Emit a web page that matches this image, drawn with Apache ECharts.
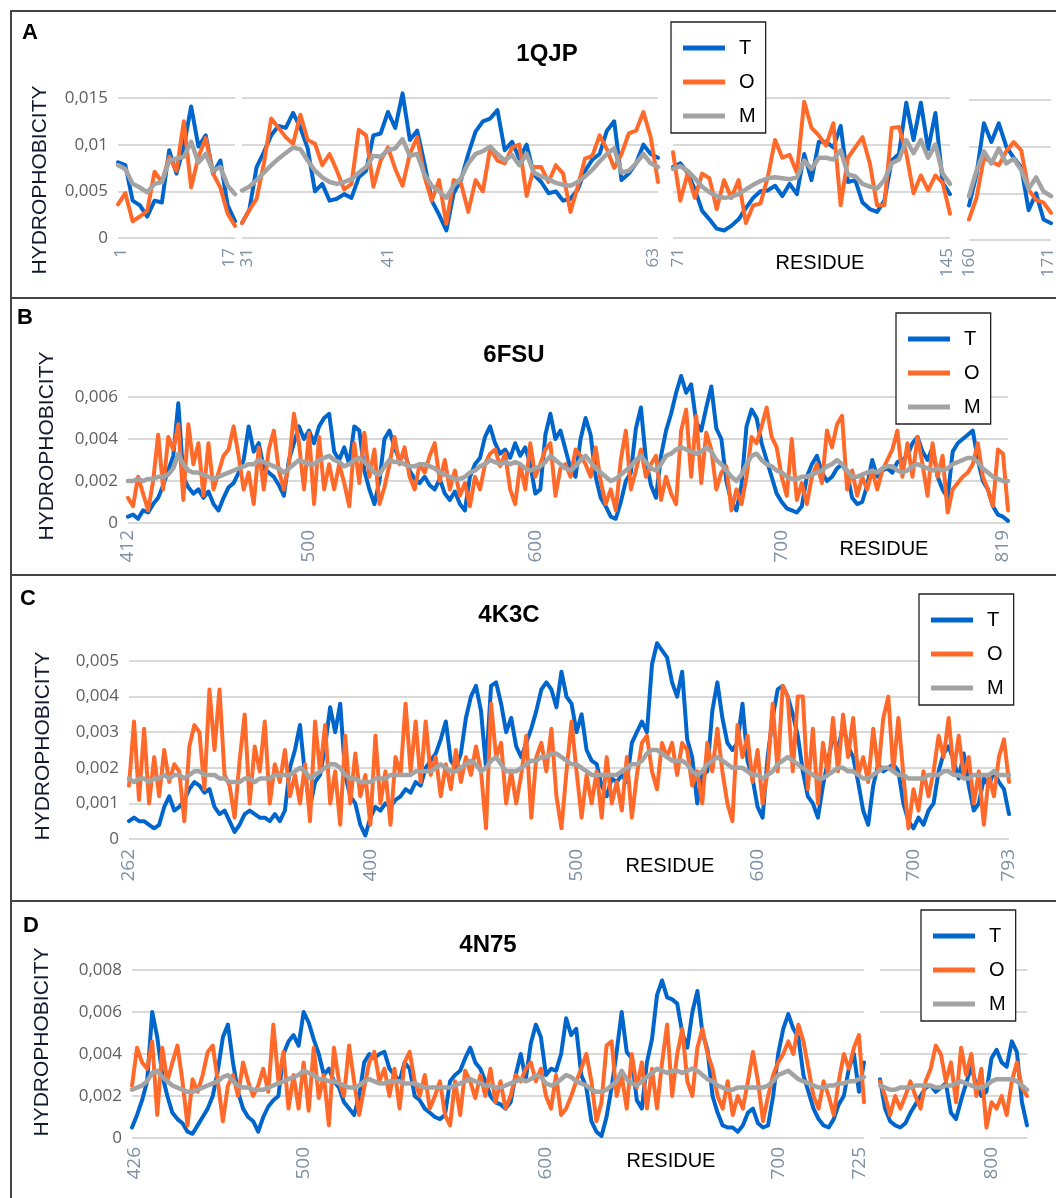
<!DOCTYPE html>
<html><head><meta charset="utf-8">
<script src="https://cdn.jsdelivr.net/npm/echarts@6/dist/echarts.min.js"></script>
<style>html,body{margin:0;padding:0;background:#fff}#c{width:1056px;height:1198px}</style>
</head><body><div id="c"></div>
<script>
// Hydrophobicity values in units of 0.0001
// Panel A – 1QJP (four segments)
const A1_T = [81,78,40,35,23,40,38,94,69,98,141,98,110,69,83,35,18];
const A1_O = [36,48,18,23,29,71,60,87,72,125,54,87,107,69,54,26,13];
const A1_M = [78,74,58,54,49,58,60,83,85,87,103,81,90,72,76,56,47];
const A2_T = [16,30,76,92,110,120,118,134,118,96,50,58,40,42,47,43,65,72,110,112,135,118,155,105,115,80,40,25,8,48,62,90,114,125,128,137,94,103,85,100,68,60,48,50,40,42,52,72,84,90,115,125,62,69,80,100,90,86];
const A2_O = [16,30,42,80,128,118,108,101,132,105,101,78,90,72,52,58,116,110,55,83,97,74,56,90,108,66,40,62,15,62,59,28,62,50,96,83,80,97,100,45,76,76,60,78,69,28,55,85,88,110,95,75,90,112,115,135,108,60];
const A2_M = [51,55,62,70,78,85,91,97,95,83,72,65,60,58,60,63,70,76,88,87,94,96,106,88,90,68,56,50,43,56,64,80,90,93,98,90,83,89,78,90,70,66,63,59,57,56,60,66,73,82,90,96,70,72,80,90,80,76];
const A3_T = [76,80,70,52,29,20,10,8,13,20,32,43,50,51,56,45,58,47,90,62,103,103,97,120,60,62,38,31,28,40,83,90,145,105,145,95,134,59,47];
const A3_O = [92,40,69,43,69,64,31,62,43,62,16,35,37,65,105,86,89,70,146,118,110,99,123,35,86,97,108,80,35,35,118,119,91,48,67,51,67,59,26];
const A3_M = [74,77,72,64,55,49,45,43,44,47,52,57,61,64,65,64,63,65,83,74,86,86,84,94,68,66,58,55,53,62,80,84,105,91,105,86,100,69,58];
const A4_T = [37,70,125,105,125,100,88,78,32,50,22,18];
const A4_O = [22,45,88,84,80,95,105,96,54,43,40,29];
const A4_M = [47,74,95,82,98,82,87,75,55,67,52,47];

// Panel B – 6FSU
const B_T = [3,4,2,6,5,9,12,18,25,32, 57,22,17,14,16,12,15,9,6,12, 17,19,24,30,46,34,38,26,24,22, 18,13,30,38,46,40,44,38,46,50,
 52,34,30,36,28,46,44,25,16,9, 20,40,44,36,30,34,25,21,19,22, 18,16,21,14,11,15,9,6,22,28, 31,41,46,38,33,35,31,38,32,36,
 28,14,16,42,52,40,44,35,26,22, 40,50,42,22,12,8,3,2,10,20, 24,45,55,30,18,12,32,44,52,62, 70,62,66,48,44,55,65,45,40,20,
 10,6,18,46,54,50,38,30,22,14, 10,7,6,5,8,22,28,32,24,20, 22,26,28,24,12,9,10,18,30,22, 25,26,24,29,30,32,38,41,34,30,
 36,22,16,12,34,38,40,42,44,30, 20,16,8,4,3,1];
const B_O = [12,8,22,14,6,20,42,16,41,35, 47,11,47,28,38,13,38,16,24,32, 35,46,32,16,24,9,36,16,35,44, 25,16,28,52,38,16,43,9,41,16,
 28,16,28,19,8,38,19,43,22,35, 9,17,28,41,28,36,22,16,28,24, 32,38,20,30,16,25,13,19,8,22, 16,28,33,35,27,33,16,9,28,16,
 38,22,28,35,38,13,26,28,22,35, 32,28,22,36,20,9,16,6,30,44, 16,25,35,22,28,32,11,22,14,9, 44,54,22,51,19,43,35,16,24,27,
 6,16,9,22,41,38,46,55,41,36, 22,13,40,11,19,9,22,28,19,44, 36,47,51,16,25,13,22,16,25,16, 25,30,35,44,22,38,22,41,28,13,
 38,22,32,5,16,19,22,24,28,38, 22,16,8,35,33,6];
const B_M = [20,20,21,20,21,21,22,22,23,26, 33,28,25,24,24,23,22,21,22,23, 24,25,26,27,28,28,30,29,28,27, 26,24,26,28,30,29,28,28,30,31,
 32,30,29,27,28,30,31,29,27,24, 23,27,30,29,29,28,27,27,28,28, 27,26,24,23,22,21,21,22,24,25, 27,28,30,29,28,29,28,29,28,26,
 25,26,27,29,32,30,28,26,25,27, 30,32,29,26,24,22,20,21,23,25, 27,30,32,29,26,25,28,32,33,35, 36,35,34,33,34,36,34,30,28,25,
 22,20,23,28,32,33,30,28,27,25, 24,22,21,21,22,22,23,24,25,27, 28,30,28,25,22,22,23,24,25,24, 26,27,27,25,24,25,27,28,27,26,
 25,26,25,26,28,29,30,31,31,29, 26,24,22,21,20,20];

// Panel C – 4K3C
const C_T = [5,6,5,5,4,3,4,9,12,8, 9,11,14,16,15,13,14,9,7,8, 5,2,4,7,8,7,6,6,5,7, 5,8,20,25,32,18,9,16,18,26,
 37,30,38,18,12,10,4,1,6,9, 8,10,9,11,12,14,13,16,15,20, 22,24,28,33,22,20,24,34,40,43, 36,20,43,44,38,30,34,26,23,27,
 31,36,42,44,42,37,47,40,38,30, 35,25,22,21,15,12,17,16,18,16, 27,30,33,30,49,55,53,51,44,40, 47,28,23,10,18,19,36,44,34,27,
 25,27,38,22,17,9,6,23,34,42, 43,40,35,29,19,12,10,6,15,22, 29,25,32,26,23,16,8,4,15,21, 19,20,21,19,10,5,3,6,4,8,
 10,19,24,26,22,17,24,15,8,10, 17,15,19,16,14,7];
const C_O = [15,33,11,31,10,23,12,25,16,21, 19,5,26,32,30,14,42,25,42,18, 15,6,22,35,10,26,19,33,10,21, 16,25,12,18,10,21,5,33,19,32,
 10,19,4,29,10,24,12,18,4,29, 10,19,4,23,18,38,19,33,16,33, 18,23,12,21,14,25,16,23,18,26, 19,3,38,23,27,10,19,10,18,29,
 6,23,27,19,31,12,3,19,33,19, 6,18,10,19,6,23,10,16,8,23, 6,18,27,29,19,14,27,23,27,18, 27,25,15,19,10,27,19,31,19,10,
 5,32,23,29,16,25,10,19,38,19, 43,40,19,40,40,14,31,10,27,18, 34,19,35,23,34,18,23,16,31,19, 34,40,19,34,18,3,14,8,19,12,
 19,29,23,34,19,29,18,23,10,19, 4,18,12,23,28,16];
const C_M = [17,16,17,17,16,17,17,18,17,18, 18,17,18,19,19,18,18,18,17,17, 16,16,16,17,17,16,17,17,17,18, 18,18,18,19,20,19,17,18,19,20,
 21,21,20,18,17,17,16,16,16,17, 17,17,18,18,18,18,18,19,19,19, 19,20,21,20,19,19,20,21,22,21, 19,20,22,23,21,19,19,19,20,21,
 22,22,23,23,24,24,23,22,21,21, 20,19,18,18,18,18,18,18,19,20, 21,21,22,24,25,25,24,23,22,22, 22,21,19,18,19,21,22,23,22,21,
 20,20,20,19,18,18,17,18,19,21, 22,23,22,21,20,19,18,17,17,18, 19,20,20,19,19,18,17,17,18,19, 20,20,19,18,18,17,17,17,17,18,
 18,18,19,19,18,18,17,17,18,18, 18,18,19,18,18,18];

// Panel D – 4N75 (two segments)
const D1_T = [5,11,18,27,60,48,30,20,12,9, 7,3,2,6,10,14,20,32,48,54, 36,22,14,10,8,3,10,15,18,20, 40,46,49,44,60,55,47,40,30,33,
 27,24,17,14,11,20,36,40,38,40, 41,33,30,27,36,33,20,18,14,12, 10,9,11,27,30,32,38,43,36,33, 27,20,17,16,14,17,30,40,28,45,
 54,48,30,33,32,40,57,49,52,30, 24,8,3,1,10,24,41,60,41,38, 18,14,36,47,68,75,67,66,64,50, 43,60,70,50,42,20,12,6,5,5,
 3,6,12,14,7,5,6,20,40,52, 59,52,48,30,22,14,9,6,5,9, 16,20,33,40,22,36];
const D1_O = [25,43,36,33,46,11,43,27,36,44, 27,6,28,22,30,41,44,27,8,25, 30,20,36,27,20,25,33,22,54,27, 41,14,30,14,36,13,43,19,30,6,
 43,27,20,44,27,11,24,36,41,27, 33,20,33,14,36,41,27,20,30,14, 20,27,11,6,27,11,32,27,19,30, 20,33,17,27,14,20,30,27,33,36,
 27,33,20,14,30,11,14,20,27,33, 40,27,8,17,44,46,20,30,14,40, 24,36,14,33,14,36,54,20,40,52, 27,20,43,52,40,33,20,14,27,11,
 20,14,27,41,27,8,20,30,36,40, 46,40,54,46,33,20,14,27,20,11, 27,40,33,43,49,17];
const D1_M = [23,24,25,27,31,32,29,27,25,24,23, 22,22,23,24,25,26,27,29,30,27, 25,24,24,23,23,23,24,25,26,27, 28,29,30,32,31,30,28,28,27,27,
 26,25,24,24,25,27,28,27,26,26, 27,27,27,26,26,26,25,24,24,24, 24,24,24,25,26,27,28,27,26,25, 25,24,24,25,26,27,28,27,28,30,
 29,26,25,26,28,30,29,27,26,25, 23,22,22,23,25,27,32,28,26,25, 27,29,31,33,32,31,32,32,31,32, 33,32,30,28,27,25,24,23,23,24,
 24,24,24,24,24,25,27,30,31,32, 30,28,27,26,25,24,24,25,25,26, 26,27,27,28,29];
const D2_T = [28,14,8,6,5,7,12,16,20,24, 25,22,24,26,12,9,18,26,34,25, 20,22,38,42,36,34,46,41,17,6];
const D2_O = [27,20,11,20,14,20,27,20,14,27, 33,44,40,27,36,17,43,30,40,20, 33,5,17,14,20,11,27,36,24,20];
const D2_M = [25,24,23,23,24,24,24,25,25,25, 25,24,24,25,25,26,27,26,25,24, 24,25,27,28,28,28,28,27,25,23];

// Tick labels (residue numbers) shown on each x axis
const A1_ticks = [1, 17];
const A2_ticks = [31, 41, 63];
const A3_ticks = [71, 145];
const A4_ticks = [160, 171];
const B_ticks = [412, 500, 600, 700, 819];
const C_ticks = [262, 400, 500, 600, 700, 793];
const D1_ticks = [426, 500, 600, 700, 725];
const D2_ticks = [800];
const SERIES_NAMES = ['T', 'O', 'M'];
const PANEL_TITLES = ['1QJP', '6FSU', '4K3C', '4N75'];
const PANEL_LETTERS = ['A', 'B', 'C', 'D'];

// ---------- layout / style ----------
const UNIT = 1e-4;
const COLORS = {T: '#0066cc', O: '#ff6a2b', M: '#a3a3a3'};
const WIDTHS = {T: 4, O: 4, M: 4.5};

function buildCats(n, ticks, at) {
  const cats = [];
  for (let i = 0; i < n; i++) {
    let r;
    if (at.length === 1) r = ticks[0] + (i - at[0]);
    else {
      let k = 0;
      while (k < at.length - 2 && i > at[k + 1]) k++;
      r = ticks[k] + (ticks[k + 1] - ticks[k]) * (i - at[k]) / (at[k + 1] - at[k]);
    }
    const ti = at.indexOf(i);
    cats.push(ti >= 0 ? String(ticks[ti]) : String(Math.round(r * 10) / 10));
  }
  return cats;
}
function fmtY(v) { return v === 0 ? '0' : String(+(v * UNIT).toFixed(6)).replace('.', ','); }

// padF / padL: nudge of first / last x label (px of padding in the rotated label box)
const segs = [
  {left:118, top:98, width:117, height:140, T:A1_T, O:A1_O, M:A1_M, ticks:A1_ticks, at:[0,16], yMax:150, yInt:50, yLab:true, xFont:17, xMargin:10, padF:6, padL:12},
  {left:242, top:98, width:416, height:140, T:A2_T, O:A2_O, M:A2_M, ticks:A2_ticks, at:[0,20,57], yMax:150, yInt:50, yLab:false, xFont:17, xMargin:10, padF:10, padL:10},
  {left:673, top:98, width:277, height:140, T:A3_T, O:A3_O, M:A3_M, ticks:A3_ticks, at:[0,38], yMax:150, yInt:50, yLab:false, xFont:17, xMargin:10, padF:10, padL:6},
  {left:969, top:100, width:82, height:140, T:A4_T, O:A4_O, M:A4_M, ticks:A4_ticks, at:[0,11], yMax:150, yInt:50, yLab:false, xFont:17, xMargin:8, padF:0, padL:6},
  {left:128, top:397, width:880, height:126, T:B_T, O:B_O, M:B_M, ticks:B_ticks, at:[0,36,81,130,175], yMax:60, yInt:20, yLab:true, xFont:19, xMargin:7, padF:0, padL:10},
  {left:129, top:661, width:880, height:178, T:C_T, O:C_O, M:C_M, ticks:C_ticks, at:[0,48,89,125,156,175], yMax:50, yInt:10, yLab:true, xFont:19, xMargin:10, padF:0, padL:0},
  {left:132, top:970, width:732, height:168, T:D1_T, O:D1_O, M:D1_M, ticks:D1_ticks, at:[0,34,82,128,145], yMax:80, yInt:20, yLab:true, xFont:19, xMargin:9, padF:6, padL:8},
  {left:880, top:970, width:147, height:168, T:D2_T, O:D2_O, M:D2_M, ticks:D2_ticks, at:[22], yMax:80, yInt:20, yLab:false, xFont:19, xMargin:9, padF:0, padL:0}
];

const grids = [], xAxes = [], yAxes = [], series = [];
segs.forEach((s, g) => {
  grids.push({left:s.left, top:s.top, width:s.width, height:s.height, containLabel:false, outerBoundsMode:'none'});
  const n = s.T.length;
  const cats = buildCats(n, s.ticks, s.at);
  const atSet = new Set(s.at);
  xAxes.push({
    type:'category', gridIndex:g, data:cats, boundaryGap:false,
    axisLine:{show:false}, axisTick:{show:false}, splitLine:{show:false},
    axisLabel:{rotate:90, interval:(i) => atSet.has(i), color:'#7f90a3', fontSize:s.xFont,
      fontFamily:'"Open Sans", sans-serif', margin:s.xMargin, hideOverlap:false,
      formatter:(val, idx) => idx === 0 ? '{f|' + val + '}' : (idx === n - 1 ? '{l|' + val + '}' : val),
      rich:{
        f:{padding:[s.padF,0,0,0], color:'#7f90a3', fontSize:s.xFont, fontFamily:'"Open Sans", sans-serif'},
        l:{padding:[0,0,s.padL,0], color:'#7f90a3', fontSize:s.xFont, fontFamily:'"Open Sans", sans-serif'}
      }}
  });
  yAxes.push({
    type:'value', gridIndex:g, min:0, max:s.yMax, interval:s.yInt,
    axisLine:{show:false}, axisTick:{show:false},
    splitLine:{show:true, lineStyle:{color:'#d9d9d9', width:2}},
    axisLabel:{show:s.yLab, formatter:fmtY, color:'#5f5f5f', fontSize:17, fontFamily:'"Open Sans", sans-serif', margin:10}
  });
  SERIES_NAMES.forEach((nm) => {
    series.push({
      type:'line', name:nm, xAxisIndex:g, yAxisIndex:g, data:s[nm],
      showSymbol:false, symbol:'none', clip:false, silent:true,
      lineStyle:{color:COLORS[nm], width:WIDTHS[nm], join:'round', cap:'round'},
      itemStyle:{color:COLORS[nm]}
    });
  });
});

const legendPos = [[671,22],[896,313],[919,594],[921,910]];
const legends = legendPos.map(([l, t]) => ({
  left:l, top:t, orient:'vertical', data:SERIES_NAMES, icon:'rect', itemWidth:42, itemHeight:5, itemGap:14,
  padding:[16,10,7,12], borderColor:'#222', borderWidth:1.3, backgroundColor:'#fff', selectedMode:false,
  textStyle:{fontSize:20, color:'#000', fontFamily:'"Liberation Sans", Arial, sans-serif', padding:[0,0,0,9]}
}));

function txt(x, y, text, font, fill, align, rot) {
  return {type:'text', x:x, y:y, rotation:rot || 0, silent:true, z:10,
    style:{text:text, font:font, fill:fill, align:align || 'center', textAlign:align || 'center',
      verticalAlign:'middle', textVerticalAlign:'middle'}};
}
function hline(y) { return {type:'line', silent:true, z:10, shape:{x1:11, y1:y, x2:1056, y2:y}, style:{stroke:'#444', lineWidth:2}}; }

const F = '"Liberation Sans", Arial, sans-serif';
const letterPos = [[22,33],[17,318],[20,599],[23,926]];
const titlePos = [[547,54],[514,355],[509,615],[488,945]];
const yTitlePos = [[40,180],[47,446],[43,746],[42,1042]];
const xTitlePos = [[820,263],[884,549],[670,866],[671,1161]];
const graphic = [
  hline(11), hline(298), hline(575), hline(901),
  {type:'line', silent:true, z:10, shape:{x1:11, y1:10, x2:11, y2:1198}, style:{stroke:'#444', lineWidth:2}}
];
for (let p = 0; p < 4; p++) {
  graphic.push(txt(letterPos[p][0], letterPos[p][1], PANEL_LETTERS[p], 'bold 22px ' + F, '#000', 'left'));
  graphic.push(txt(titlePos[p][0], titlePos[p][1], PANEL_TITLES[p], 'bold 24px ' + F, '#000'));
  graphic.push(txt(yTitlePos[p][0], yTitlePos[p][1], 'HYDROPHOBICITY', '21px ' + F, '#111a2e', 'center', Math.PI / 2));
  graphic.push(txt(xTitlePos[p][0], xTitlePos[p][1], 'RESIDUE', '20px ' + F, '#000'));
}

const chart = echarts.init(document.getElementById('c'), null, {renderer:'canvas', width:1056, height:1198});
chart.setOption({
  animation:false, backgroundColor:'#fff',
  grid:grids, xAxis:xAxes, yAxis:yAxes, series:series, legend:legends, graphic:graphic
});
</script>
</body></html>
